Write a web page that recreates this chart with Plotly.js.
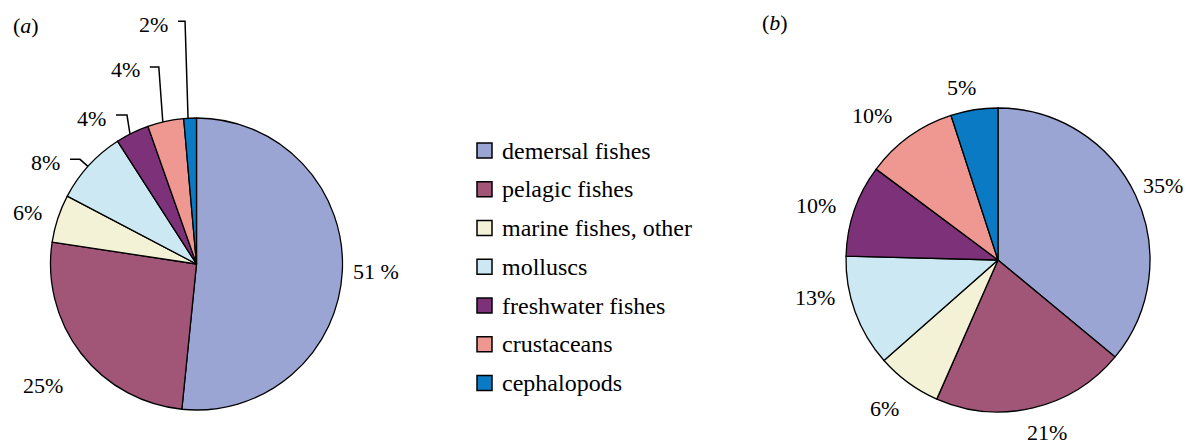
<!DOCTYPE html>
<html>
<head>
<meta charset="utf-8">
<script src="https://cdn.plot.ly/plotly-3.0.1.min.js"></script>
<style>html,body{margin:0;padding:0;background:#fff;}#chart{width:1193px;height:445px;}</style>
</head>
<body>
<div id="chart"></div>
<script>
// ---- data ----
const categories = ['demersal fishes', 'pelagic fishes', 'marine fishes, other', 'molluscs', 'freshwater fishes', 'crustaceans', 'cephalopods'];
const valuesA = [51.6, 25.8, 5.3, 8.2, 3.7, 4.0, 1.4];
const valuesB = [36.0, 20.6, 6.9, 11.9, 9.8, 9.8, 5.0];
const labelsA = ['51 %', '25%', '6%', '8%', '4%', '4%', '2%'];
const labelsB = ['35%', '21%', '6%', '13%', '10%', '10%', '5%'];
const colors = ['#9BA5D3', '#A15677', '#F3F2D6', '#CCE8F3', '#7D3179', '#EF9892', '#0A7AC4'];

// ---- layout / style ----
const W = 1193, H = 445;
const FONT = 'Times New Roman';
const pieA = {cx: 196.5, cy: 264, r: 146};
const pieB = {cx: 998, cy: 260, r: 152};
const labelStyleA = [
  {rf: 1.233, dAng: -0.4},
  {rf: 1.34, dAng: -0.5},
  {rf: 1.21, dAng: -1.4},
  {elbow: true, dAng: -0.5, cdx: -8, rise: 7, hlen: 10, gap: 8},
  {elbow: true, dAng: -1.0, cdx: -3, rise: 19, hlen: 11, gap: 8},
  {elbow: true, dAng: -1.1, cdx: -4, rise: 55, hlen: 9, gap: 8},
  {elbow: true, dAng: -0.8, cdx: -3, rise: 97, hlen: 7, gap: 8}
];
const labelStyleB = [
  {rf: 1.19, dAng: 1},
  {rf: 1.18, dAng: -2.5},
  {rf: 1.23, dAng: 1.2},
  {rf: 1.23, dAng: 8.3},
  {rf: 1.25, dAng: -2.3},
  {rf: 1.26, dAng: -5.4},
  {rf: 1.16, dAng: -3}
];
const legendStyle = {sqX: 477, sqSize: 15, textX: 499.5, y0: 150.5, dy: 38.75};

const px = x => x / W;
const py = y => 1 - y / H;

function pieTrace(vals, p) {
  return {
    type: 'pie', values: vals, labels: categories, sort: false,
    direction: 'clockwise', rotation: 0,
    marker: {colors: colors, line: {color: '#000', width: 1.3}},
    textinfo: 'none', hoverinfo: 'label+percent', showlegend: false,
    domain: {x: [px(p.cx - p.r), px(p.cx + p.r)], y: [py(p.cy + p.r), py(p.cy - p.r)]}
  };
}

function midAngles(vals) {
  const tot = vals.reduce((a, b) => a + b, 0);
  let c = 0;
  return vals.map(v => { const m = (c + v / 2) / tot * 360; c += v; return m; });
}

const annotations = [];
const shapes = [];
function pt(p, deg, rad) {
  const t = deg * Math.PI / 180;
  return {x: p.cx + rad * Math.sin(t), y: p.cy - rad * Math.cos(t)};
}
function addLabels(vals, texts, p, styles) {
  const mids = midAngles(vals);
  mids.forEach((m, i) => {
    const s = styles[i];
    const ang = m + s.dAng;
    if (s.elbow) {
      const E = pt(p, ang, p.r);
      const C = {x: E.x + s.cdx, y: E.y - s.rise};
      const F = {x: C.x - s.hlen, y: C.y};
      shapes.push({type: 'path', xref: 'paper', yref: 'paper',
        path: `M ${px(E.x)},${py(E.y)} L ${px(C.x)},${py(C.y)} L ${px(F.x)},${py(F.y)}`,
        line: {color: '#000', width: 1.5}});
      annotations.push({xref: 'paper', yref: 'paper', x: px(F.x - s.gap), y: py(F.y + 3),
        xanchor: 'right', yanchor: 'middle', showarrow: false, text: texts[i],
        font: {family: FONT, size: 22, color: '#000'}});
    } else {
      const L = pt(p, ang, p.r * s.rf);
      annotations.push({xref: 'paper', yref: 'paper', x: px(L.x), y: py(L.y),
        xanchor: 'center', yanchor: 'middle', showarrow: false, text: texts[i],
        font: {family: FONT, size: 22, color: '#000'}});
    }
  });
}
addLabels(valuesA, labelsA, pieA, labelStyleA);
addLabels(valuesB, labelsB, pieB, labelStyleB);

// legend (drawn from the category list)
categories.forEach((c, i) => {
  const yc = legendStyle.y0 + i * legendStyle.dy;
  const h = legendStyle.sqSize / 2;
  shapes.push({type: 'rect', xref: 'paper', yref: 'paper',
    x0: px(legendStyle.sqX), x1: px(legendStyle.sqX + legendStyle.sqSize),
    y0: py(yc + h), y1: py(yc - h),
    fillcolor: colors[i], line: {color: '#000', width: 1.5}});
  annotations.push({xref: 'paper', yref: 'paper', x: px(legendStyle.textX), y: py(yc),
    xanchor: 'left', yanchor: 'middle', showarrow: false, text: c,
    font: {family: FONT, size: 24, color: '#000'}});
});

// panel letters
annotations.push({xref: 'paper', yref: 'paper', x: px(11), y: py(25), xanchor: 'left', yanchor: 'middle',
  showarrow: false, text: '(<i>a</i>)', font: {family: FONT, size: 22, color: '#000'}});
annotations.push({xref: 'paper', yref: 'paper', x: px(760), y: py(23), xanchor: 'left', yanchor: 'middle',
  showarrow: false, text: '(<i>b</i>)', font: {family: FONT, size: 22, color: '#000'}});

const layout = {
  width: W, height: H, margin: {l: 0, r: 0, t: 0, b: 0},
  font: {family: FONT},
  paper_bgcolor: '#fff', plot_bgcolor: '#fff', showlegend: false,
  annotations: annotations, shapes: shapes
};
Plotly.newPlot('chart', [pieTrace(valuesA, pieA), pieTrace(valuesB, pieB)], layout, {displayModeBar: false, staticPlot: true});
</script>
</body>
</html>
